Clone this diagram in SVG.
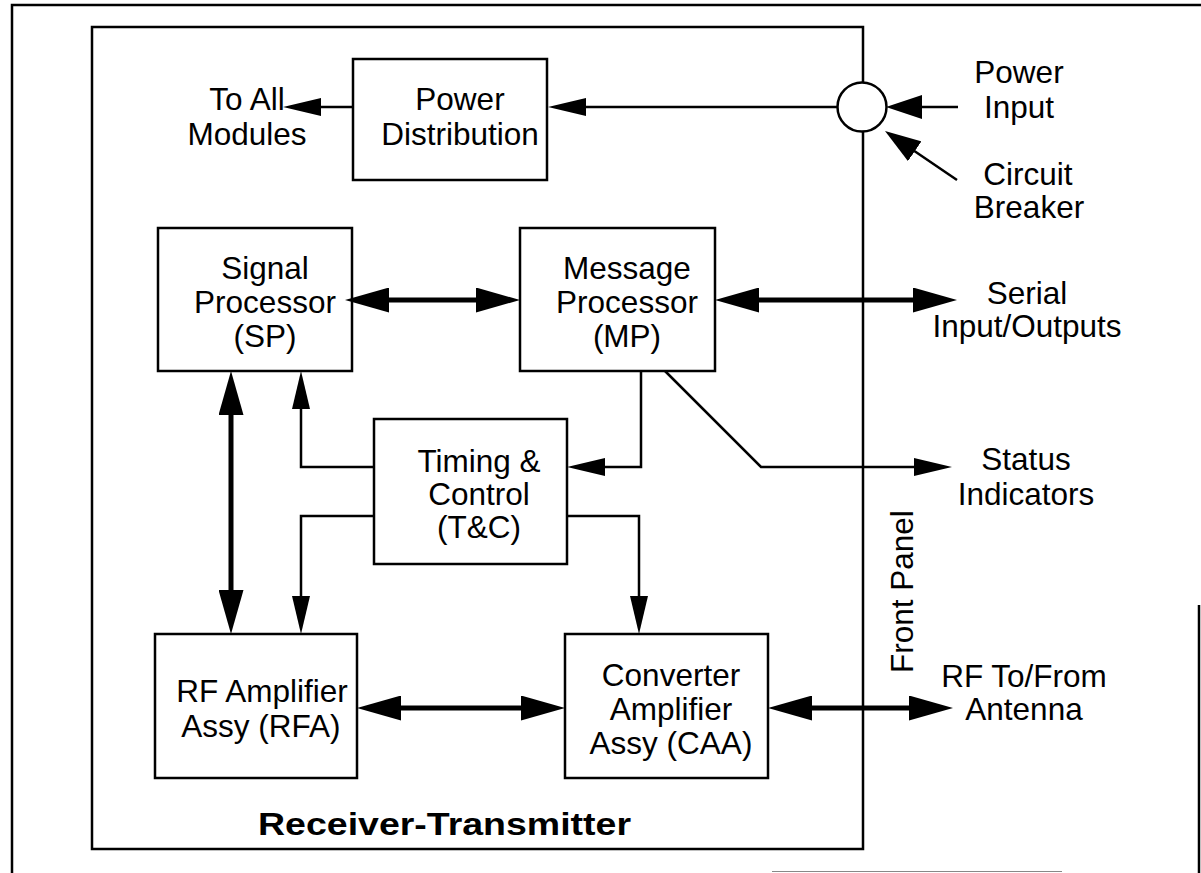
<svg xmlns="http://www.w3.org/2000/svg" width="1201" height="873" viewBox="0 0 1201 873">
<style>
  .box { fill: #fff; stroke: #000; stroke-width: 2.5; }
  .frame { fill: none; stroke: #000; stroke-width: 2.5; }
  .thin { fill: none; stroke: #000; stroke-width: 2.5; }
  .thick { fill: none; stroke: #000; stroke-width: 5; }
  text { font-family: "Liberation Sans", Arial, Helvetica, sans-serif; font-size: 31.5px; fill: #000; text-anchor: middle; }
  .title { font-weight: bold; font-size: 32px; text-anchor: start; }
</style>
<defs>
  <marker id="at" markerUnits="userSpaceOnUse" markerWidth="38" markerHeight="18" viewBox="0 0 38 18" refX="30" refY="9" orient="auto-start-reverse">
    <path d="M0,0 L38,9 L0,18 z" fill="#000"/>
  </marker>
  <marker id="am" markerUnits="userSpaceOnUse" markerWidth="36" markerHeight="24" viewBox="0 0 36 24" refX="28" refY="12" orient="auto-start-reverse">
    <path d="M0,0 L36,12 L0,24 z" fill="#000"/>
  </marker>
  <marker id="ak" markerUnits="userSpaceOnUse" markerWidth="44" markerHeight="25" viewBox="0 0 44 25" refX="32" refY="12.5" orient="auto-start-reverse">
    <path d="M0,0 L44,12.5 L0,25 z" fill="#000"/>
  </marker>
</defs>
<rect width="1201" height="873" fill="#fff"/>

<g id="outer-frame">
  <path class="frame" d="M12,873 V5 H1201" stroke-width="3"/>
  <path class="frame" d="M1199,605 V873" stroke-width="2.5"/>
  <path d="M772,871.5 H1062" stroke="#888" stroke-width="1" fill="none"/>
</g>

<g id="receiver-transmitter">
  <path class="frame" d="M863,82 V27 H92 V849 H863 V131"/>
  <text class="title" x="258" y="835" textLength="373" lengthAdjust="spacingAndGlyphs">Receiver-Transmitter</text>
</g>

<g id="front-panel-label">
  <text x="0" y="0" transform="translate(913,673) rotate(-90)" style="text-anchor:start">Front Panel</text>
</g>

<g id="circuit-breaker">
  <circle cx="862" cy="107" r="24.5" fill="#fff" stroke="#000" stroke-width="2.5"/>
</g>

<g id="power-distribution">
  <rect class="box" x="353" y="59" width="194" height="121"/>
  <text x="460" y="110">Power</text>
  <text x="460" y="145">Distribution</text>
</g>

<g id="signal-processor">
  <rect class="box" x="158" y="228" width="194" height="143"/>
  <text x="265" y="279">Signal</text>
  <text x="265" y="313">Processor</text>
  <text x="265" y="347">(SP)</text>
</g>

<g id="message-processor">
  <rect class="box" x="520" y="228" width="195" height="143"/>
  <text x="627" y="279">Message</text>
  <text x="627" y="313">Processor</text>
  <text x="627" y="347">(MP)</text>
</g>

<g id="timing-control">
  <rect class="box" x="374" y="419" width="193" height="145"/>
  <text x="479" y="472">Timing &amp;</text>
  <text x="479" y="505">Control</text>
  <text x="479" y="538">(T&amp;C)</text>
</g>

<g id="rf-amplifier">
  <rect class="box" x="155" y="634" width="202" height="144"/>
  <text x="262" y="702">RF Amplifier</text>
  <text x="261" y="737">Assy (RFA)</text>
</g>

<g id="converter-amplifier">
  <rect class="box" x="565" y="634" width="203" height="144"/>
  <text x="671" y="686">Converter</text>
  <text x="671" y="720">Amplifier</text>
  <text x="671" y="754">Assy (CAA)</text>
</g>

<g id="external-labels">
  <text x="247" y="110">To All</text>
  <text x="247" y="145">Modules</text>
  <text x="1019" y="83">Power</text>
  <text x="1019" y="118">Input</text>
  <text x="1028" y="185">Circuit</text>
  <text x="1029" y="218">Breaker</text>
  <text x="1027" y="304">Serial</text>
  <text x="1027" y="337">Input/Outputs</text>
  <text x="1026" y="470">Status</text>
  <text x="1026" y="505">Indicators</text>
  <text x="1024" y="687">RF To/From</text>
  <text x="1024" y="720">Antenna</text>
</g>

<g id="connectors">
  <path class="thin" d="M353,107 H291" marker-end="url(#at)"/>
  <path class="thin" d="M837,107 H556" marker-end="url(#at)"/>
  <path class="thin" d="M958,107 H894" marker-end="url(#am)"/>
  <path class="thin" d="M957,180 L891.6,135.5" stroke-width="3.5" marker-end="url(#am)"/>
  <path class="thin" d="M374,467 H301 V379" marker-end="url(#at)"/>
  <path class="thin" d="M374,516 H301 V626" marker-end="url(#at)"/>
  <path class="thin" d="M641,371 V467 H575" marker-end="url(#at)"/>
  <path class="thin" d="M567,516 H639 V626" marker-end="url(#at)"/>
  <path class="thin" d="M665,371 L761,467 H944" marker-end="url(#at)"/>
  <path class="thick" d="M357,300 H508" marker-start="url(#ak)" marker-end="url(#ak)"/>
  <path class="thick" d="M727,300 H945" marker-start="url(#ak)" marker-end="url(#ak)"/>
  <path class="thick" d="M231,383 V622" marker-start="url(#ak)" marker-end="url(#ak)"/>
  <path class="thick" d="M369,708 H553" marker-start="url(#ak)" marker-end="url(#ak)"/>
  <path class="thick" d="M780,708 H941" marker-start="url(#ak)" marker-end="url(#ak)"/>
</g>
</svg>
